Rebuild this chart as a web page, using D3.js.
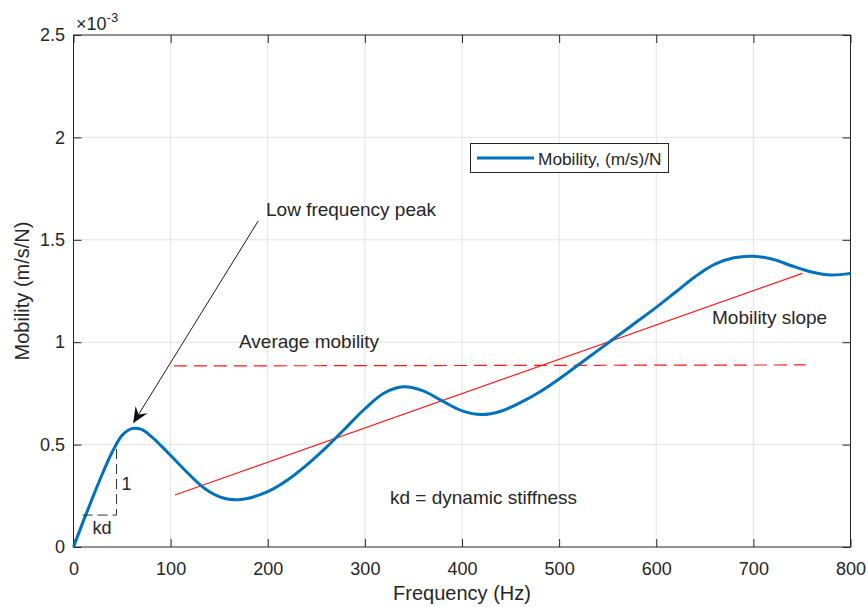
<!DOCTYPE html>
<html>
<head>
<meta charset="utf-8">
<script src="https://cdn.jsdelivr.net/npm/d3@7"></script>
<style>
  body { margin: 0; background: #fff; }
  svg text { font-family: "Liberation Sans", Arial, Helvetica, sans-serif; fill: #262626; }
</style>
</head>
<body>
<div id="chart"></div>
<script>
// mobility values are in units of 1e-3 (m/s)/N, as the axis shows
var freq = [0, 10, 20, 30, 40, 50, 60, 70, 80, 90, 100, 110, 120, 130, 140, 150, 160, 170, 180,
  190, 200, 220, 240, 260, 280, 300, 320, 340, 360, 380, 400, 420, 440, 460, 480, 500, 520, 540,
  560, 580, 600, 620, 640, 660, 680, 700, 720, 740, 760, 780, 800];
var mobility = [0, 0.125, 0.245, 0.36, 0.465, 0.545, 0.578, 0.574, 0.54, 0.495, 0.447, 0.398,
  0.35, 0.305, 0.27, 0.246, 0.233, 0.231, 0.238, 0.252, 0.27, 0.326, 0.4, 0.485, 0.58, 0.675,
  0.752, 0.782, 0.762, 0.712, 0.665, 0.647, 0.663, 0.705, 0.757, 0.82, 0.89, 0.96, 1.03, 1.10,
  1.17, 1.245, 1.32, 1.38, 1.412, 1.42, 1.405, 1.372, 1.343, 1.328, 1.336];

var avgLine = [[103.4, 0.884], [754, 0.889]];
var slopeLine = [[104.4, 0.254], [750.5, 1.336]];
var arrowLine = [[190.3, 1.593], [61.4, 0.604]];
var kdTriangle = [[9.3, 0.156], [44.3, 0.156], [44.3, 0.505]];

var xTicks = [0, 100, 200, 300, 400, 500, 600, 700, 800];
var yTicks = [0, 0.5, 1, 1.5, 2, 2.5];
var yTickLabels = ["0", "0.5", "1", "1.5", "2", "2.5"];

var W = 868, H = 607;
var svg = d3.select("#chart").append("svg")
  .attr("width", W).attr("height", H);

var x = d3.scaleLinear().domain([0, 800]).range([73.5, 850.5]);
var y = d3.scaleLinear().domain([0, 2.5]).range([547, 35]);

// grid
svg.append("g").selectAll("line").data(xTicks.slice(1, -1)).enter().append("line")
  .attr("x1", d => x(d)).attr("x2", d => x(d))
  .attr("y1", y(0)).attr("y2", y(2.5))
  .attr("stroke", "#e3e3e3").attr("stroke-width", 1);
svg.append("g").selectAll("line").data(yTicks.slice(1, -1)).enter().append("line")
  .attr("x1", x(0)).attr("x2", x(800))
  .attr("y1", d => y(d)).attr("y2", d => y(d))
  .attr("stroke", "#e3e3e3").attr("stroke-width", 1);

// axes with inward ticks
var fontTick = "18px";
var xAxis = svg.append("g").attr("transform", "translate(0," + y(0) + ")")
  .call(d3.axisBottom(x).tickValues(xTicks).tickSizeInner(-8).tickSizeOuter(0).tickPadding(15));
var yAxis = svg.append("g").attr("transform", "translate(" + x(0) + ",0)")
  .call(d3.axisLeft(y).tickValues(yTicks).tickFormat((d, i) => yTickLabels[i])
    .tickSizeInner(-8).tickSizeOuter(0).tickPadding(8.5));
var xTop = svg.append("g").attr("transform", "translate(0," + y(2.5) + ")")
  .call(d3.axisTop(x).tickValues(xTicks).tickSizeInner(-8).tickSizeOuter(0).tickFormat(""));
var yRight = svg.append("g").attr("transform", "translate(" + x(800) + ",0)")
  .call(d3.axisRight(y).tickValues(yTicks).tickSizeInner(-8).tickSizeOuter(0).tickFormat(""));

[xAxis, yAxis, xTop, yRight].forEach(function (g) {
  g.select(".domain").remove();
  g.selectAll(".tick line").attr("stroke", "#262626");
  g.selectAll(".tick text").attr("font-size", fontTick)
    .style("font-family", "'Liberation Sans', Arial, sans-serif").attr("fill", "#262626");
});

// box
svg.append("rect")
  .attr("x", x(0)).attr("y", y(2.5))
  .attr("width", x(800) - x(0)).attr("height", y(0) - y(2.5))
  .attr("fill", "none").attr("stroke", "#262626").attr("stroke-width", 1);

// exponent
var expo = svg.append("text").attr("x", 76).attr("y", 30).attr("font-size", "18px");
expo.append("tspan").text("\u00d710");
expo.append("tspan").attr("dy", -8).attr("font-size", "13px").text("-3");

// axis labels
svg.append("text").attr("x", (x(0) + x(800)) / 2).attr("y", 600)
  .attr("text-anchor", "middle").attr("font-size", "20px").text("Frequency (Hz)");
svg.append("text").attr("transform", "translate(29,291) rotate(-90)")
  .attr("text-anchor", "middle").attr("font-size", "20px").text("Mobility (m/s/N)");

var line = d3.line().x(d => x(d[0])).y(d => y(d[1]));

// average mobility (dashed) and slope lines
svg.append("path").attr("d", line(avgLine))
  .attr("stroke", "#ff1a1a").attr("stroke-width", 1.2).attr("fill", "none")
  .attr("stroke-dasharray", "13,7");
svg.append("path").attr("d", line(slopeLine))
  .attr("stroke", "#ff1a1a").attr("stroke-width", 1.2).attr("fill", "none");

// mobility curve
var curve = d3.line().x(d => x(d[0])).y(d => y(d[1])).curve(d3.curveCatmullRom);
svg.append("path").attr("d", curve(freq.map((f, i) => [f, mobility[i]])))
  .attr("stroke", "#0072BD").attr("stroke-width", 3).attr("fill", "none")
  .attr("stroke-linejoin", "round");

// kd triangle
svg.append("path").attr("d", line(kdTriangle))
  .attr("stroke", "#333").attr("stroke-width", 1).attr("fill", "none")
  .attr("stroke-dasharray", "10,5");
svg.append("text").attr("x", x(44.3) + 5).attr("y", 490).attr("font-size", "18px").text("1");
svg.append("text").attr("x", 102).attr("y", 534).attr("text-anchor", "middle")
  .attr("font-size", "18px").text("kd");

// arrow to the low frequency peak
var a0 = [x(arrowLine[0][0]), y(arrowLine[0][1])];
var a1 = [x(arrowLine[1][0]), y(arrowLine[1][1])];
var ang = Math.atan2(a1[1] - a0[1], a1[0] - a0[0]);
var hl = 16, hw = 7;
function pt(l, w) {
  return [a1[0] - l * Math.cos(ang) - w * Math.sin(ang), a1[1] - l * Math.sin(ang) + w * Math.cos(ang)];
}
svg.append("line").attr("x1", a0[0]).attr("y1", a0[1])
  .attr("x2", pt(10, 0)[0]).attr("y2", pt(10, 0)[1])
  .attr("stroke", "#1a1a1a").attr("stroke-width", 1);
svg.append("path")
  .attr("d", "M" + a1 + "L" + pt(hl, hw) + "L" + pt(hl * 0.65, 0) + "L" + pt(hl, -hw) + "Z")
  .attr("fill", "#111");

// annotations
var fontNote = "19px";
svg.append("text").attr("x", 266).attr("y", 216).attr("font-size", fontNote).text("Low frequency peak");
svg.append("text").attr("x", 239).attr("y", 348).attr("font-size", fontNote).text("Average mobility");
svg.append("text").attr("x", 712).attr("y", 324).attr("font-size", fontNote).text("Mobility slope");
svg.append("text").attr("x", 390).attr("y", 504).attr("font-size", fontNote).text("kd = dynamic stiffness");

// legend
var lg = svg.append("g");
lg.append("rect").attr("x", 470.5).attr("y", 143.5).attr("width", 198).attr("height", 29)
  .attr("fill", "#fff").attr("stroke", "#262626").attr("stroke-width", 1);
lg.append("line").attr("x1", 477).attr("x2", 534).attr("y1", 158).attr("y2", 158)
  .attr("stroke", "#0072BD").attr("stroke-width", 3);
lg.append("text").attr("x", 538).attr("y", 164.5).attr("font-size", "17.3px").text("Mobility, (m/s)/N");
</script>
</body>
</html>
